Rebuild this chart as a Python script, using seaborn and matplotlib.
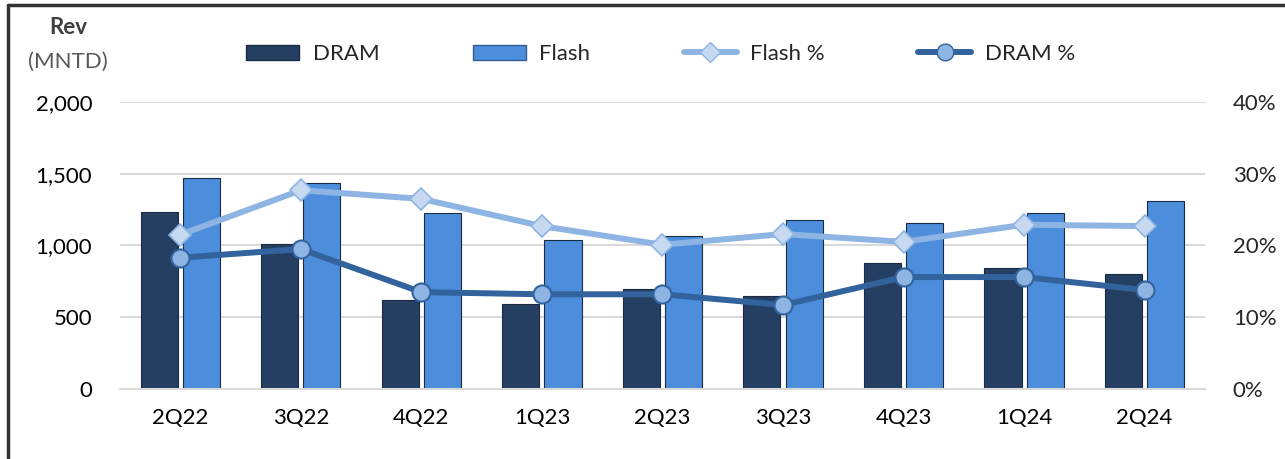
import numpy as np
import pandas as pd
import matplotlib.pyplot as plt
import seaborn as sns
from matplotlib.lines import Line2D
from matplotlib.patches import Patch

# Chart data
quarters = ["2Q22", "3Q22", "4Q22", "1Q23", "2Q23", "3Q23", "4Q23", "1Q24", "2Q24"]
dram_rev = [1233, 1010, 620, 592, 697, 648, 878, 843, 801]
flash_rev = [1470, 1435, 1226, 1038, 1066, 1178, 1157, 1226, 1310]
flash_pct = [21.5, 27.7, 26.5, 22.7, 20.1, 21.6, 20.5, 22.9, 22.7]
dram_pct = [18.3, 19.5, 13.5, 13.2, 13.2, 11.7, 15.6, 15.6, 13.8]

DRAM_COLOR = "#253f62"
FLASH_COLOR = "#4c8edb"
FLASH_PCT_COLOR = "#8db4e2"
FLASH_PCT_MARKER = "#c6d9f1"
DRAM_PCT_COLOR = "#33639c"
DRAM_PCT_MARKER = "#8db4e2"

sns.set_style("white")
plt.rcParams["font.family"] = ["Lato", "DejaVu Sans"]

rev_df = pd.DataFrame({
    "quarter": quarters * 2,
    "rev": dram_rev + flash_rev,
    "type": ["DRAM"] * len(quarters) + ["Flash"] * len(quarters),
})

fig = plt.figure(figsize=(12.85, 4.59), dpi=100)
ax = fig.add_axes([0.0934, 0.1525, 0.8443, 0.6253])

sns.barplot(data=rev_df, x="quarter", y="rev", hue="type", order=quarters,
            hue_order=["DRAM", "Flash"], palette=[DRAM_COLOR, FLASH_COLOR],
            saturation=1, width=0.7, gap=0.12, edgecolor="#1a2a40",
            linewidth=0.8, legend=False, ax=ax)
ax.set_ylim(0, 2000)
ax.set_xlim(-0.5, len(quarters) - 0.5)
ax.set_yticks([0, 500, 1000, 1500, 2000])
ax.set_yticklabels([f"{v:,}" for v in [0, 500, 1000, 1500, 2000]])
ax.yaxis.grid(True, color="#d9d9d9", linewidth=1.5)
ax.set_axisbelow(True)
ax.set_xlabel("")
ax.set_ylabel("")
for s in ["top", "right", "left"]:
    ax.spines[s].set_visible(False)
ax.spines["bottom"].set_color("#d9d9d9")
ax.spines["bottom"].set_linewidth(1.5)
ax.tick_params(axis="both", length=0, labelsize=16, colors="#000000")
ax.tick_params(axis="x", pad=14)
ax.tick_params(axis="y", pad=20)

ax2 = ax.twinx()
sns.pointplot(x=quarters, y=flash_pct, color=FLASH_PCT_COLOR, markers="D",
              linewidth=4.3, markersize=11, markerfacecolor=FLASH_PCT_MARKER,
              markeredgecolor=FLASH_PCT_COLOR, markeredgewidth=1.2, ax=ax2)
sns.pointplot(x=quarters, y=dram_pct, color=DRAM_PCT_COLOR, markers="o",
              linewidth=4.3, markersize=13, markerfacecolor=DRAM_PCT_MARKER,
              markeredgecolor=DRAM_PCT_COLOR, markeredgewidth=1.5, ax=ax2)
ax2.set_ylim(0, 40)
ax2.set_xlim(-0.5, len(quarters) - 0.5)
ax2.set_yticks([0, 10, 20, 30, 40])
ax2.set_yticklabels([f"{v}%" for v in [0, 10, 20, 30, 40]])
ax2.set_ylabel("")
for s in ["top", "right", "left", "bottom"]:
    ax2.spines[s].set_visible(False)
ax2.tick_params(axis="y", length=0, labelsize=16, pad=20)

fig.text(0.053, 0.94, "Rev", fontsize=16, fontweight="bold", color="#404040",
         ha="center", va="center")
fig.text(0.053, 0.865, "(MNTD)", fontsize=16, color="#595959",
         ha="center", va="center")

handles = [
    Patch(facecolor=DRAM_COLOR, edgecolor="#1a2a40"),
    Patch(facecolor=FLASH_COLOR, edgecolor="#2f5f96"),
    Line2D([], [], color=FLASH_PCT_COLOR, linewidth=4.3, marker="D", markersize=10,
           markerfacecolor=FLASH_PCT_MARKER, markeredgecolor=FLASH_PCT_COLOR),
    Line2D([], [], color=DRAM_PCT_COLOR, linewidth=4.3, marker="o", markersize=12,
           markerfacecolor=DRAM_PCT_MARKER, markeredgecolor=DRAM_PCT_COLOR),
]
fig.legend(handles, ["DRAM", "Flash", "Flash %", "DRAM %"], loc="center",
           bbox_to_anchor=(0.514, 0.882), ncol=4, frameon=False, fontsize=16,
           handlelength=2.4, handleheight=0.7, columnspacing=4.2, handletextpad=0.6)

# frame: top and left edges only
fig.add_artist(Line2D([0.006, 1.0], [0.989, 0.989], transform=fig.transFigure,
                      color="#333333", linewidth=2.5))
fig.add_artist(Line2D([0.006, 0.006], [0.0, 0.989], transform=fig.transFigure,
                      color="#333333", linewidth=2.5))

fig.savefig("out.png", dpi=100)
